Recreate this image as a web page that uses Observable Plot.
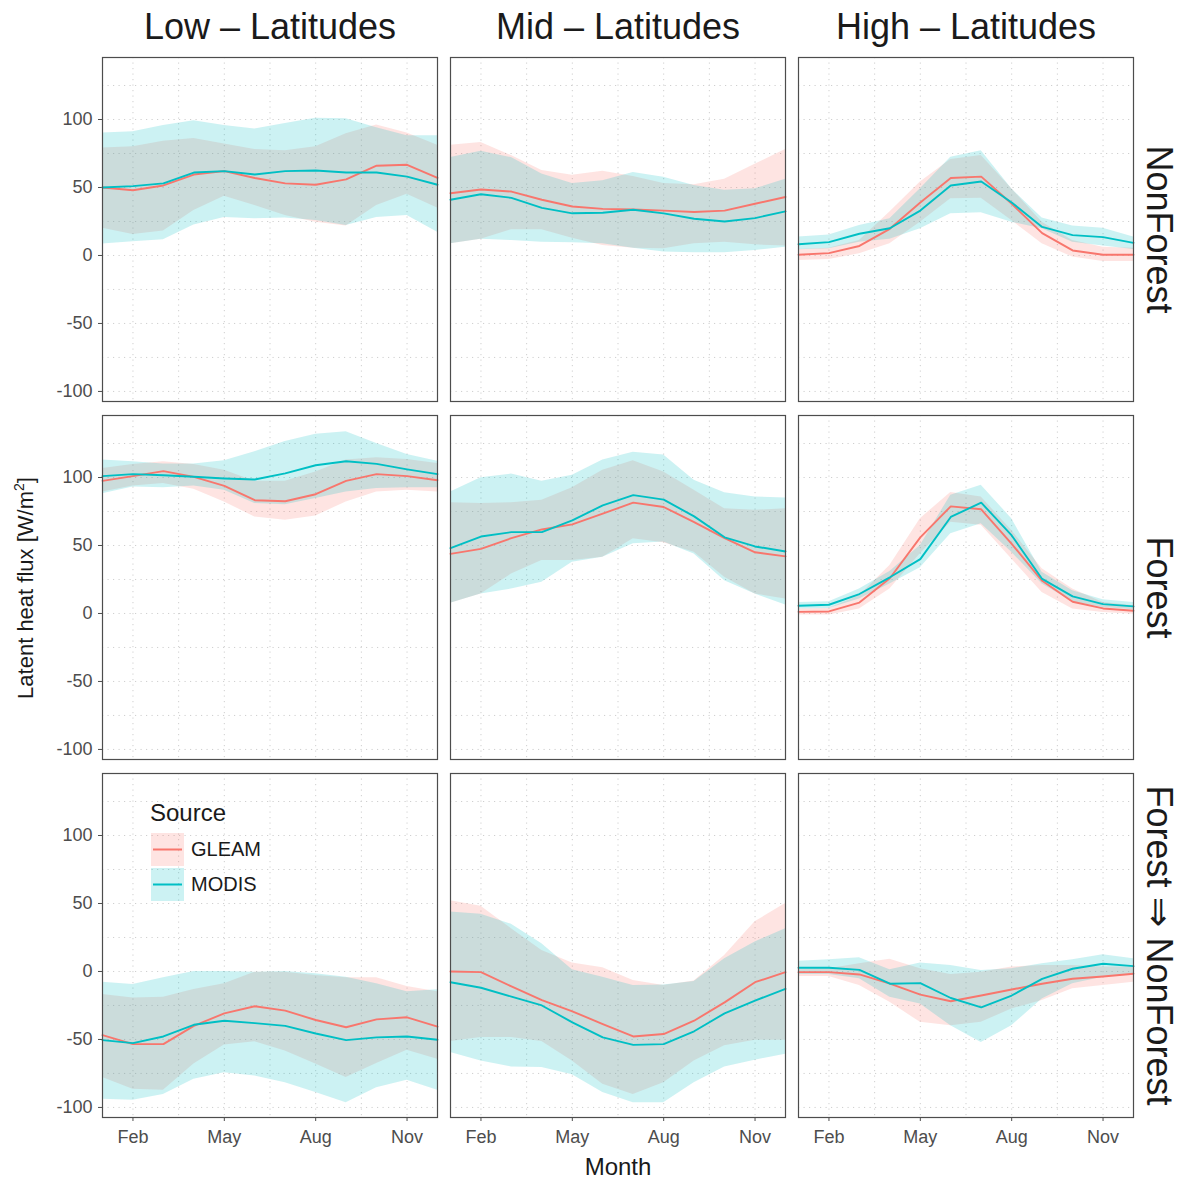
<!DOCTYPE html>
<html>
<head>
<meta charset="utf-8">
<script src="https://cdn.jsdelivr.net/npm/d3@7"></script>
<script src="https://cdn.jsdelivr.net/npm/@observablehq/plot@0.6"></script>
<style>
  body { margin: 0; background: white; }
  #wrap { position: relative; width: 1184px; height: 1182px; font-family: "Liberation Sans", Arial, sans-serif; }
  .ov { position: absolute; white-space: nowrap; color: #1a1a1a; }
</style>
</head>
<body>
<div id="wrap"></div>
<script>
// ---- categories & ticks ----
const months = [1,2,3,4,5,6,7,8,9,10,11,12];
const monthTicks = [2,5,8,11];
const monthTickLabels = ["Feb","May","Aug","Nov"];
const yTicks = [-100,-50,0,50,100];
const yMinorGrid = [-75,-25,25,75,125];
const xMinorGrid = [3.5,6.5,9.5];
const columns = ["Low – Latitudes","Mid – Latitudes","High – Latitudes"];
const rowsCat = ["NonForest","Forest","Forest ⇒ NonForest"];
const sources = ["GLEAM","MODIS"];
const sourceColors = ["#F8766D","#00BFC4"];

// ---- Low latitudes, NonForest ----
const lowNF_GLEAM      = [50,48,51.5,59.5,62,57,53,52,56,66,66.7,57];
const lowNF_GLEAM_lo   = [20,15.4,18,33,43.6,36.8,29.4,24.5,21.6,36.8,45,35];
const lowNF_GLEAM_hi   = [79,80,84,86,82,78,77,80,89.5,96,90,81];
const lowNF_MODIS      = [50,51,53,61,62,59.5,62,62.5,61,61,58,52];
const lowNF_MODIS_lo   = [8.5,10,11.5,22.5,28,27,27.5,25.7,22,28,29.4,17];
const lowNF_MODIS_hi   = [90,91,95.5,99,95.5,93,97,101,100.5,94,88,88];
// ---- Mid latitudes, NonForest ----
const midNF_GLEAM      = [45.8,48.5,47,41,36,34.3,33.8,33,32,33,38,43];
const midNF_GLEAM_lo   = [8.6,12,19,19,12.7,7.4,5.4,5,8.6,9.8,7.8,6.9];
const midNF_GLEAM_hi   = [81,83,73.5,62.5,59,62,58,53,52,56,67,78];
const midNF_MODIS      = [41,45,42.4,35,31,31.4,33.6,31,27,25,27.5,32.4];
const midNF_MODIS_lo   = [8.6,12,11,9.8,9.3,8.6,5.4,2.5,2,2,3.7,6];
const midNF_MODIS_hi   = [72,76.7,72,60,53,55,61,57.6,51.5,48,49,56];
// ---- High latitudes, NonForest ----
const highNF_GLEAM     = [0.5,1.7,7,19.6,39,57,58,38,16.4,3.7,0.5,0.5];
const highNF_GLEAM_lo  = [-3.7,-3,1.2,8.6,24.5,41.7,42,25.7,8.6,-1.2,-4.4,-4.4];
const highNF_GLEAM_hi  = [4.4,5.4,11,32,54,70.6,73.5,49,24.5,11,6,5.4];
const highNF_MODIS     = [8.3,9.8,16,20,33,51.5,54.4,39,21,15,13.5,9.3];
const highNF_MODIS_lo  = [4.2,4.9,9.8,12,19.6,30.6,31.4,24.5,19.6,9.8,6.9,4.4];
const highNF_MODIS_hi  = [13.5,15,22,27,49,72.3,77,49,27.5,21.6,20,13.5];
// ---- Low latitudes, Forest ----
const lowF_GLEAM       = [97.5,101,104.7,100.5,93.8,83.3,82.5,87.7,97.5,102.5,101,98];
const lowF_GLEAM_lo    = [89.4,93.8,95.6,91.4,82,71,68.5,71.7,82,89.4,90.6,89.4];
const lowF_GLEAM_hi    = [106.6,109.6,111.6,109.6,105.4,97.3,97.3,104,112.8,114.5,113.3,110.3];
const lowF_MODIS       = [101,102.5,101.7,100.5,99.3,98.5,103,109,112,110,106,102.5];
const lowF_MODIS_lo    = [88,93,92.4,93.8,90.6,80.8,80,84.5,89.4,91.9,92.4,92.4];
const lowF_MODIS_hi    = [112.8,111.6,110,110,112.3,119,126.4,131.8,133.7,125,117,112];
// ---- Mid latitudes, Forest ----
const midF_GLEAM       = [43.8,47.5,55.4,61.8,65.5,73.4,81.5,78.3,67.2,55.4,45,42];
const midF_GLEAM_lo    = [7.6,14.3,29,39,39,41.4,55,52,45,26.6,14.3,10.6];
const midF_GLEAM_hi    = [81.5,80.8,81.5,83.3,92.4,105.4,112.3,104,90.6,77,75.9,77];
const midF_MODIS       = [48,56.6,59.8,59.8,68.5,79.5,87,83.7,71.4,56,49.3,45.6];
const midF_MODIS_lo    = [7.6,14.3,18,23,37.7,41.4,51.2,52.5,43.8,24,14.3,6.2];
const midF_MODIS_hi    = [89.4,99.8,102.5,97.3,101.7,112.8,118.5,116.5,98,88.7,85.7,85];
// ---- High latitudes, Forest ----
const highF_GLEAM      = [1.2,1.5,8,25.9,56,78.8,76.6,51.2,24,8.6,3.7,2];
const highF_GLEAM_lo   = [-1.2,-1.2,3.2,18,44,67,64.8,40,15.5,3.2,0.7,-0.5];
const highF_GLEAM_hi   = [3.2,3.7,13,35.2,69.7,89,85.7,61,32.8,18,8.1,5.7];
const highF_MODIS      = [5.7,6.4,14.3,26.6,40,71,81.5,57.4,25.4,12.6,6.9,5.2];
const highF_MODIS_lo   = [3.2,3.7,10.6,21.7,33.7,58.6,66,45,21.7,8.6,4.4,2.7];
const highF_MODIS_hi   = [8.1,8.6,18,30.8,50,87,94.3,69.7,30.3,16.7,10,8.1];
// ---- Low latitudes, Forest => NonForest ----
const lowFNF_GLEAM     = [-46.8,-53.4,-53.4,-40,-30.8,-25.6,-28.8,-35.7,-41,-35.2,-33.7,-40.6];
const lowFNF_GLEAM_lo  = [-78,-86.7,-87.4,-68,-54,-51.7,-58.4,-68,-78,-67.7,-57.9,-64.5];
const lowFNF_GLEAM_hi  = [-17,-19.5,-19,-13.3,-9,-0.5,-0.5,-3,-4.7,-4.7,-11,-15];
const lowFNF_MODIS     = [-50.5,-52.7,-47.8,-39.2,-36.2,-38,-40,-45.6,-50.5,-48.5,-47.8,-50.2];
const lowFNF_MODIS_lo  = [-94,-94.8,-90.4,-79.3,-74.4,-76.8,-81.8,-89,-96.6,-85.5,-80,-87.4];
const lowFNF_MODIS_hi  = [-7.9,-9.6,-4.7,0,0,-0.5,0,-1.7,-4.2,-9,-15,-13.5];
// ---- Mid latitudes, Forest => NonForest ----
const midFNF_GLEAM     = [0,-0.5,-11,-21,-29.3,-38.7,-47.8,-46,-36.2,-22.7,-7.9,-0.5];
const midFNF_GLEAM_lo  = [-51.5,-48.5,-48.5,-51.5,-65.8,-83,-90.4,-81.8,-65.8,-54.7,-50.5,-50.5];
const midFNF_GLEAM_hi  = [52,48,31.5,15.5,6.2,2.7,-6.7,-10.3,-7,11.8,36.5,50];
const midFNF_MODIS     = [-7.9,-12,-18.5,-25,-37.4,-48.5,-54,-53.4,-44,-30.8,-21.4,-12.8];
const midFNF_MODIS_lo  = [-59.6,-65.8,-70.2,-70.7,-76,-89,-96.6,-96.6,-81.8,-70.2,-65.3,-60.8];
const midFNF_MODIS_hi  = [43.8,42,34.7,20.4,1.2,-4.2,-10.3,-9.9,-7.4,9.4,21.7,31.5];
// ---- High latitudes, Forest => NonForest ----
const highFNF_GLEAM    = [-0.5,-0.5,-2.2,-9,-17,-21.9,-17.7,-13.3,-9,-5.4,-3.7,-1.7];
const highFNF_GLEAM_lo = [-3.7,-3.7,-10.3,-22.7,-37.4,-40,-37.4,-27.6,-21.4,-12.8,-10.3,-7.9];
const highFNF_GLEAM_hi = [1.2,2,5.7,8.9,2,-2.2,-0.5,3.2,4.4,4.4,3.2,3.2];
const highFNF_MODIS    = [2.7,2.7,1.2,-9,-8.6,-19.5,-26.4,-17.7,-5.4,2,5.7,3.9];
const highFNF_MODIS_lo = [-2.2,-2.2,-5.4,-19,-23.9,-40,-52.2,-40,-20.2,-9,-4.2,-2.2];
const highFNF_MODIS_hi = [7.6,8.6,10,1.2,6.2,4.4,0.7,2,5.7,8.6,12.3,9.4];

// ---- assemble table ----
const seriesList = [
  [columns[0], rowsCat[0], "GLEAM", lowNF_GLEAM, lowNF_GLEAM_lo, lowNF_GLEAM_hi],
  [columns[0], rowsCat[0], "MODIS", lowNF_MODIS, lowNF_MODIS_lo, lowNF_MODIS_hi],
  [columns[1], rowsCat[0], "GLEAM", midNF_GLEAM, midNF_GLEAM_lo, midNF_GLEAM_hi],
  [columns[1], rowsCat[0], "MODIS", midNF_MODIS, midNF_MODIS_lo, midNF_MODIS_hi],
  [columns[2], rowsCat[0], "GLEAM", highNF_GLEAM, highNF_GLEAM_lo, highNF_GLEAM_hi],
  [columns[2], rowsCat[0], "MODIS", highNF_MODIS, highNF_MODIS_lo, highNF_MODIS_hi],
  [columns[0], rowsCat[1], "GLEAM", lowF_GLEAM, lowF_GLEAM_lo, lowF_GLEAM_hi],
  [columns[0], rowsCat[1], "MODIS", lowF_MODIS, lowF_MODIS_lo, lowF_MODIS_hi],
  [columns[1], rowsCat[1], "GLEAM", midF_GLEAM, midF_GLEAM_lo, midF_GLEAM_hi],
  [columns[1], rowsCat[1], "MODIS", midF_MODIS, midF_MODIS_lo, midF_MODIS_hi],
  [columns[2], rowsCat[1], "GLEAM", highF_GLEAM, highF_GLEAM_lo, highF_GLEAM_hi],
  [columns[2], rowsCat[1], "MODIS", highF_MODIS, highF_MODIS_lo, highF_MODIS_hi],
  [columns[0], rowsCat[2], "GLEAM", lowFNF_GLEAM, lowFNF_GLEAM_lo, lowFNF_GLEAM_hi],
  [columns[0], rowsCat[2], "MODIS", lowFNF_MODIS, lowFNF_MODIS_lo, lowFNF_MODIS_hi],
  [columns[1], rowsCat[2], "GLEAM", midFNF_GLEAM, midFNF_GLEAM_lo, midFNF_GLEAM_hi],
  [columns[1], rowsCat[2], "MODIS", midFNF_MODIS, midFNF_MODIS_lo, midFNF_MODIS_hi],
  [columns[2], rowsCat[2], "GLEAM", highFNF_GLEAM, highFNF_GLEAM_lo, highFNF_GLEAM_hi],
  [columns[2], rowsCat[2], "MODIS", highFNF_MODIS, highFNF_MODIS_lo, highFNF_MODIS_hi]
];
const table = seriesList.flatMap(([col, row, source, m, lo, hi]) =>
  months.map((month, i) => ({col, row, source, month, mean: m[i], lo: lo[i], hi: hi[i]})));

const gridStyle = {stroke: "#cfcfcf", strokeWidth: 1, strokeDasharray: "1.2,4.3"};

const chart = Plot.plot({
  width: 1184,
  height: 1182,
  marginLeft: 102,
  marginRight: 51,
  marginTop: 57,
  marginBottom: 64,
  style: {background: "white", fontFamily: "'Liberation Sans', Arial, sans-serif", fontSize: "18px", color: "#4d4d4d"},
  fx: {domain: columns, paddingInner: 0.0374, paddingOuter: 0, axis: null},
  fy: {domain: rowsCat, paddingInner: 0.039, paddingOuter: 0, axis: null},
  x: {domain: [1, 12], ticks: monthTicks, tickFormat: d => monthTickLabels[monthTicks.indexOf(d)], tickSize: 4, tickPadding: 9, label: null},
  y: {domain: [-107.4, 145.6], ticks: yTicks, tickFormat: d => String(d), tickSize: 4, tickPadding: 6, label: null},
  color: {domain: sources, range: sourceColors},
  marks: [
    Plot.ruleY(yMinorGrid, gridStyle),
    Plot.ruleY(yTicks, gridStyle),
    Plot.ruleX(xMinorGrid, gridStyle),
    Plot.ruleX(monthTicks, gridStyle),
    Plot.areaY(table, {x: "month", y1: "lo", y2: "hi", fill: "source", fillOpacity: 0.2, z: "source", fx: "col", fy: "row"}),
    Plot.lineY(table, {x: "month", y: "mean", stroke: "source", strokeWidth: 1.9, z: "source", fx: "col", fy: "row"}),
    Plot.frame({stroke: "#4d4d4d", strokeWidth: 1.2}),
    Plot.text(columns, {fx: d => d, fy: () => rowsCat[0], text: d => d, frameAnchor: "top", lineAnchor: "middle", textAnchor: "middle", dy: -30, fontSize: 36, fill: "#1a1a1a"}),
    Plot.text(rowsCat, {fy: d => d, fx: () => columns[2], text: d => d, frameAnchor: "right", textAnchor: "middle", lineAnchor: "middle", dx: 25, rotate: 90, fontSize: 36, fill: "#1a1a1a"})
  ]
});

const wrap = document.getElementById("wrap");
wrap.appendChild(chart);

// axis titles
const ylab = document.createElement("div");
ylab.className = "ov";
ylab.style.cssText = "left:25px;top:588px;font-size:22px;transform:translate(-50%,-50%) rotate(-90deg);";
ylab.innerHTML = "Latent heat flux [W/m<sup style='font-size:14px'>2</sup>]";
wrap.appendChild(ylab);

const xlab = document.createElement("div");
xlab.className = "ov";
xlab.style.cssText = "left:618px;top:1167px;font-size:24px;transform:translate(-50%,-50%);";
xlab.textContent = "Month";
wrap.appendChild(xlab);

// legend inside lower-left panel
const leg = document.createElement("div");
leg.className = "ov";
leg.style.cssText = "left:150px;top:798px;";
let html = "<div style='font-size:24px;line-height:30px;margin-bottom:4px'>Source</div>";
sources.forEach((s, i) => {
  const c = sourceColors[i];
  html += `<div style='display:flex;align-items:center;height:35px'>
    <svg width='33' height='33' style='margin-left:1px'><rect x='0' y='0' width='33' height='33' fill='${c}' fill-opacity='0.2'/><line x1='2' x2='31' y1='16.5' y2='16.5' stroke='${c}' stroke-width='2'/></svg>
    <span style='font-size:20px;margin-left:7px'>${s}</span></div>`;
});
leg.innerHTML = html;
wrap.appendChild(leg);
</script>
</body>
</html>
